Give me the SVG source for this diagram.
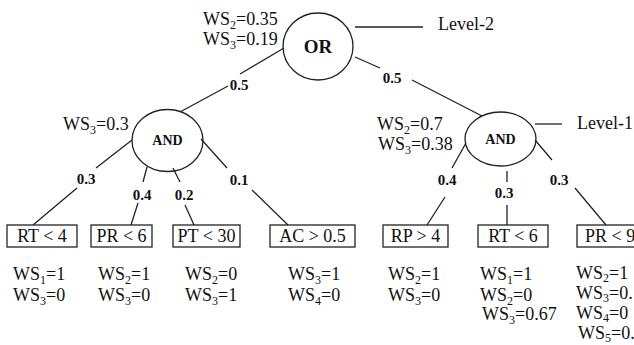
<svg xmlns="http://www.w3.org/2000/svg" width="634" height="345" viewBox="0 0 634 345">
<style>
.n{fill:none;stroke:#222;stroke-width:1.3}
.c{fill:none;stroke:#222;stroke-width:1.3}
.t{font-family:"Liberation Serif","DejaVu Serif",serif;font-size:18px;fill:#111}
.b{font-family:"Liberation Serif","DejaVu Serif",serif;font-weight:bold;fill:#111;text-anchor:middle}
.w{font-size:15px}
.m{text-anchor:middle}
.s{font-size:12px}
</style>
<rect width="634" height="345" fill="#fff"/>
<g id="connectors">
<path class="c" d="M284,48 L240,74 M228,86 L180,112"/>
<path class="c" d="M355,57 L380,68 M412,80 L482,116"/>
<path class="c" d="M132,140 L96,168 M77,188 L33,225"/>
<path class="c" d="M147,167 L143,182 M138,203 L131,225"/>
<path class="c" d="M173,168 L180,182 M185,205 L194,225"/>
<path class="c" d="M201,139 L227,168 M252,190 L288,225"/>
<path class="c" d="M466,143 L452,168 M445,197 L427,225"/>
<path class="c" d="M507,171 L507,182 M507,205 L507,225"/>
<path class="c" d="M535,140 L552,160 M575,188 L606,225"/>
<path class="c" d="M355,27 L423,27"/>
<path class="c" d="M535,124 L562,124"/>
<text class="b w" x="239" y="90">0.5</text>
<text class="b w" x="392" y="83">0.5</text>
<text class="b w" x="86" y="184">0.3</text>
<text class="b w" x="142" y="200">0.4</text>
<text class="b w" x="184" y="200">0.2</text>
<text class="b w" x="239" y="185">0.1</text>
<text class="b w" x="447" y="185">0.4</text>
<text class="b w" x="504" y="198">0.3</text>
<text class="b w" x="559" y="185">0.3</text>
</g>
<g id="or">
<ellipse class="n" cx="318" cy="46.5" rx="35" ry="33.5"/>
<text class="b" x="318" y="53" font-size="19">OR</text>
<text class="t" x="203" y="25">WS<tspan class="s" dy="4">2</tspan><tspan dy="-4">=0.35</tspan></text>
<text class="t" x="203" y="45">WS<tspan class="s" dy="4">3</tspan><tspan dy="-4">=0.19</tspan></text>
<text class="t" x="438" y="30">Level-2</text>
</g>
<g id="and-left">
<ellipse class="n" cx="167.5" cy="140.5" rx="35.5" ry="31"/>
<text class="b" x="167.5" y="145" font-size="14">AND</text>
<text class="t" x="63" y="130">WS<tspan class="s" dy="4">3</tspan><tspan dy="-4">=0.3</tspan></text>
</g>
<g id="and-right">
<ellipse class="n" cx="500.5" cy="139" rx="35.5" ry="27"/>
<text class="b" x="500.5" y="144" font-size="14">AND</text>
<text class="t" x="377" y="130">WS<tspan class="s" dy="4">2</tspan><tspan dy="-4">=0.7</tspan></text>
<text class="t" x="378" y="150">WS<tspan class="s" dy="4">3</tspan><tspan dy="-4">=0.38</tspan></text>
<text class="t" x="577" y="129">Level-1</text>
</g>
<g id="rt4">
<rect class="n" x="7" y="225" width="70" height="22"/>
<text class="t m" x="42" y="242">RT &lt; 4</text>
<text class="t" x="13" y="280">WS<tspan class="s" dy="4">1</tspan><tspan dy="-4">=1</tspan></text>
<text class="t" x="13" y="301">WS<tspan class="s" dy="4">3</tspan><tspan dy="-4">=0</tspan></text>
</g>
<g id="pr6">
<rect class="n" x="91" y="225" width="61" height="22"/>
<text class="t m" x="121.5" y="242">PR &lt; 6</text>
<text class="t" x="98" y="280">WS<tspan class="s" dy="4">2</tspan><tspan dy="-4">=1</tspan></text>
<text class="t" x="98" y="301">WS<tspan class="s" dy="4">3</tspan><tspan dy="-4">=0</tspan></text>
</g>
<g id="pt30">
<rect class="n" x="173" y="225" width="67" height="22"/>
<text class="t m" x="206.5" y="242">PT &lt; 30</text>
<text class="t" x="185" y="280">WS<tspan class="s" dy="4">2</tspan><tspan dy="-4">=0</tspan></text>
<text class="t" x="185" y="301">WS<tspan class="s" dy="4">3</tspan><tspan dy="-4">=1</tspan></text>
</g>
<g id="ac05">
<rect class="n" x="270" y="225" width="85" height="22"/>
<text class="t m" x="312.5" y="242">AC &gt; 0.5</text>
<text class="t" x="288" y="280">WS<tspan class="s" dy="4">3</tspan><tspan dy="-4">=1</tspan></text>
<text class="t" x="288" y="301">WS<tspan class="s" dy="4">4</tspan><tspan dy="-4">=0</tspan></text>
</g>
<g id="rp4">
<rect class="n" x="383" y="225" width="65" height="22"/>
<text class="t m" x="415.5" y="242">RP &gt; 4</text>
<text class="t" x="388" y="280">WS<tspan class="s" dy="4">2</tspan><tspan dy="-4">=1</tspan></text>
<text class="t" x="388" y="301">WS<tspan class="s" dy="4">3</tspan><tspan dy="-4">=0</tspan></text>
</g>
<g id="rt6">
<rect class="n" x="478" y="225" width="70" height="22"/>
<text class="t m" x="513" y="242">RT &lt; 6</text>
<text class="t" x="480" y="280">WS<tspan class="s" dy="4">1</tspan><tspan dy="-4">=1</tspan></text>
<text class="t" x="480" y="301">WS<tspan class="s" dy="4">2</tspan><tspan dy="-4">=0</tspan></text>
<text class="t" x="482" y="320">WS<tspan class="s" dy="4">3</tspan><tspan dy="-4">=0.67</tspan></text>
</g>
<g id="pr9">
<rect class="n" x="577" y="225" width="80" height="22"/>
<text class="t" x="585" y="242">PR &lt; 9</text>
<text class="t" x="576" y="279">WS<tspan class="s" dy="3">2</tspan><tspan dy="-3">=1</tspan></text>
<text class="t" x="576" y="299">WS<tspan class="s" dy="3">3</tspan><tspan dy="-3">=0.</tspan></text>
<text class="t" x="576" y="319">WS<tspan class="s" dy="3">4</tspan><tspan dy="-3">=0</tspan></text>
<text class="t" x="578" y="339">WS<tspan class="s" dy="3">5</tspan><tspan dy="-3">=0.</tspan></text>
</g>
</svg>
